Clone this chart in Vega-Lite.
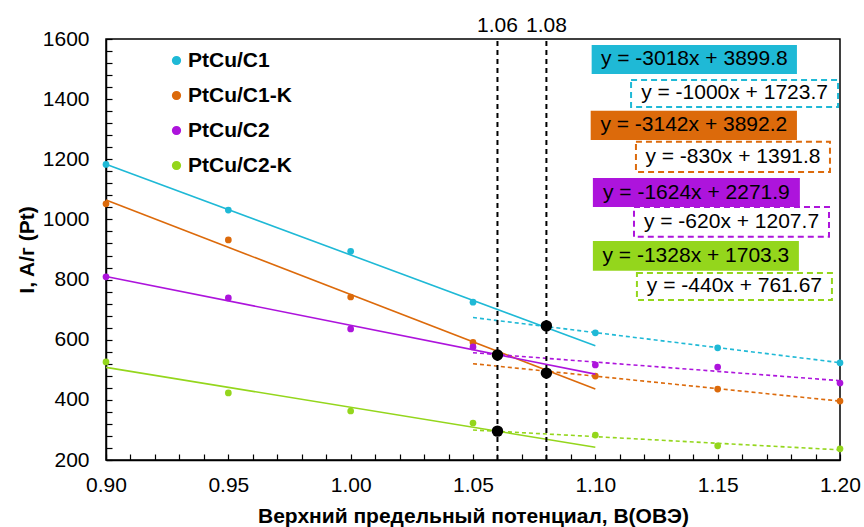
{
  "$schema": "https://vega.github.io/schema/vega-lite/v6.json",
  "width": 734,
  "height": 421,
  "autosize": {"type": "none"},
  "padding": {"left": 106, "top": 39, "right": 24, "bottom": 67},
  "config": {
    "font": "Liberation Sans",
    "view": {"stroke": "black", "strokeWidth": 1.5},
    "axis": {
      "domainColor": "black", "domainWidth": 1.5, "tickColor": "black", "tickWidth": 1.2,
      "labelFont": "Liberation Sans", "labelFontSize": 21, "labelColor": "black",
      "titleFont": "Liberation Sans", "titleFontSize": 21, "titleFontWeight": "bold", "titleColor": "black",
      "grid": false, "labelOverlap": false, "labelFlush": false
    }
  },
  "datasets": {
    "pts": [
      {"s": "PtCu/C1", "x": 0.90, "y": 1183}, {"s": "PtCu/C1", "x": 0.95, "y": 1031}, {"s": "PtCu/C1", "x": 1.00, "y": 894},
      {"s": "PtCu/C1", "x": 1.05, "y": 725}, {"s": "PtCu/C1", "x": 1.10, "y": 623}, {"s": "PtCu/C1", "x": 1.15, "y": 573}, {"s": "PtCu/C1", "x": 1.20, "y": 523},
      {"s": "PtCu/C1-K", "x": 0.90, "y": 1052}, {"s": "PtCu/C1-K", "x": 0.95, "y": 932}, {"s": "PtCu/C1-K", "x": 1.00, "y": 742},
      {"s": "PtCu/C1-K", "x": 1.05, "y": 591}, {"s": "PtCu/C1-K", "x": 1.10, "y": 479}, {"s": "PtCu/C1-K", "x": 1.15, "y": 436}, {"s": "PtCu/C1-K", "x": 1.20, "y": 396},
      {"s": "PtCu/C2", "x": 0.90, "y": 809}, {"s": "PtCu/C2", "x": 0.95, "y": 739}, {"s": "PtCu/C2", "x": 1.00, "y": 636},
      {"s": "PtCu/C2", "x": 1.05, "y": 576}, {"s": "PtCu/C2", "x": 1.10, "y": 516}, {"s": "PtCu/C2", "x": 1.15, "y": 509}, {"s": "PtCu/C2", "x": 1.20, "y": 456},
      {"s": "PtCu/C2-K", "x": 0.90, "y": 526}, {"s": "PtCu/C2-K", "x": 0.95, "y": 423}, {"s": "PtCu/C2-K", "x": 1.00, "y": 363},
      {"s": "PtCu/C2-K", "x": 1.05, "y": 323}, {"s": "PtCu/C2-K", "x": 1.10, "y": 283}, {"s": "PtCu/C2-K", "x": 1.15, "y": 247}, {"s": "PtCu/C2-K", "x": 1.20, "y": 237}
    ],
    "fits": [
      {"s": "PtCu/C1", "k": "solid", "x": 0.90, "y": 1183.6}, {"s": "PtCu/C1", "k": "solid", "x": 1.10, "y": 580.0},
      {"s": "PtCu/C1-K", "k": "solid", "x": 0.90, "y": 1064.4}, {"s": "PtCu/C1-K", "k": "solid", "x": 1.10, "y": 436.0},
      {"s": "PtCu/C2", "k": "solid", "x": 0.90, "y": 810.3}, {"s": "PtCu/C2", "k": "solid", "x": 1.10, "y": 485.5},
      {"s": "PtCu/C2-K", "k": "solid", "x": 0.90, "y": 508.1}, {"s": "PtCu/C2-K", "k": "solid", "x": 1.10, "y": 242.5},
      {"s": "PtCu/C1", "k": "dash", "x": 1.05, "y": 673.7}, {"s": "PtCu/C1", "k": "dash", "x": 1.20, "y": 523.7},
      {"s": "PtCu/C1-K", "k": "dash", "x": 1.05, "y": 520.3}, {"s": "PtCu/C1-K", "k": "dash", "x": 1.20, "y": 395.8},
      {"s": "PtCu/C2", "k": "dash", "x": 1.05, "y": 556.7}, {"s": "PtCu/C2", "k": "dash", "x": 1.20, "y": 463.7},
      {"s": "PtCu/C2-K", "k": "dash", "x": 1.05, "y": 299.67}, {"s": "PtCu/C2-K", "k": "dash", "x": 1.20, "y": 233.67}
    ],
    "boxes": [
      {"s": "PtCu/C1", "k": "fill", "label": "y = -3018x + 3899.8", "x1": 1.0985, "x2": 1.1824, "y1": 1484, "y2": 1580},
      {"s": "PtCu/C1", "k": "dash", "label": "y = -1000x + 1723.7", "x1": 1.1146, "x2": 1.1992, "y1": 1374, "y2": 1464},
      {"s": "PtCu/C1-K", "k": "fill", "label": "y = -3142x + 3892.2", "x1": 1.0981, "x2": 1.1824, "y1": 1264, "y2": 1361},
      {"s": "PtCu/C1-K", "k": "dash", "label": "y = -830x + 1391.8", "x1": 1.1166, "x2": 1.1959, "y1": 1158, "y2": 1258},
      {"s": "PtCu/C2", "k": "fill", "label": "y = -1624x + 2271.9", "x1": 1.0990, "x2": 1.1836, "y1": 1041, "y2": 1138},
      {"s": "PtCu/C2", "k": "dash", "label": "y = -620x + 1207.7", "x1": 1.1158, "x2": 1.1955, "y1": 942, "y2": 1041},
      {"s": "PtCu/C2-K", "k": "fill", "label": "y = -1328x + 1703.3", "x1": 1.0990, "x2": 1.1832, "y1": 829, "y2": 928},
      {"s": "PtCu/C2-K", "k": "dash", "label": "y = -440x + 761.67", "x1": 1.1170, "x2": 1.1967, "y1": 732, "y2": 822}
    ],
    "cross": [
      {"x": 1.06, "y": 549}, {"x": 1.08, "y": 646}, {"x": 1.08, "y": 489}, {"x": 1.06, "y": 296}
    ],
    "vlines": [
      {"x": 1.06, "y1": 200, "y2": 1600, "label": "1.06"},
      {"x": 1.08, "y1": 200, "y2": 1600, "label": "1.08"}
    ]
  },
  "layer": [
    {
      "data": {"name": "pts"},
      "mark": {"type": "point", "filled": true, "opacity": 1, "size": 45},
      "encoding": {
        "x": {"field": "x", "type": "quantitative",
          "scale": {"domain": [0.9, 1.2], "nice": false, "zero": false},
          "axis": {"title": "Верхний предельный потенциал, В(ОВЭ)", "tickSize": -6, "labelPadding": 20, "titlePadding": 10,
            "labelOverlap": false, "labelFlush": false, "labelBound": false, "tickCount": 200,
            "values": [0.90,0.91,0.92,0.93,0.94,0.95,0.96,0.97,0.98,0.99,1.00,1.01,1.02,1.03,1.04,1.05,1.06,1.07,1.08,1.09,1.10,1.11,1.12,1.13,1.14,1.15,1.16,1.17,1.18,1.19,1.20],
            "labelExpr": "abs(round(datum.value*100)) % 5 === 0 ? format(datum.value, '.2f') : ''"}},
        "y": {"field": "y", "type": "quantitative",
          "scale": {"domain": [200, 1600], "nice": false, "zero": false},
          "axis": {"title": "I, A/г (Pt)", "tickSize": -6, "labelPadding": 23, "titlePadding": 5, "format": "d",
            "labelOverlap": false, "labelFlush": false, "labelBound": false, "tickCount": 200,
            "values": [200,240,280,320,360,400,440,480,520,560,600,640,680,720,760,800,840,880,920,960,1000,1040,1080,1120,1160,1200,1240,1280,1320,1360,1400,1440,1480,1520,1560,1600],
            "labelExpr": "datum.value % 200 === 0 ? datum.label : ''"}},
        "color": {"field": "s", "type": "nominal",
          "scale": {"domain": ["PtCu/C1", "PtCu/C1-K", "PtCu/C2", "PtCu/C2-K"], "range": ["#1FB9D6", "#DC6A0B", "#AD14DC", "#94D61C"]},
          "legend": {"orient": "none", "legendX": 60, "legendY": 11, "title": null, "labelFontSize": 21, "labelFontWeight": "bold",
            "labelFont": "Liberation Sans", "labelColor": "black", "symbolSize": 60, "rowPadding": 13, "labelOffset": 1, "symbolType": "circle", "padding": 0}}
      }
    },
    {
      "data": {"name": "fits"},
      "transform": [{"filter": "datum.k === 'solid'"}],
      "mark": {"type": "line", "strokeWidth": 1.6},
      "encoding": {
        "x": {"field": "x", "type": "quantitative"},
        "y": {"field": "y", "type": "quantitative"},
        "color": {"field": "s", "type": "nominal", "legend": null}
      }
    },
    {
      "data": {"name": "fits"},
      "transform": [{"filter": "datum.k === 'dash'"}],
      "mark": {"type": "line", "strokeWidth": 1.6, "strokeDash": [4, 3]},
      "encoding": {
        "x": {"field": "x", "type": "quantitative"},
        "y": {"field": "y", "type": "quantitative"},
        "color": {"field": "s", "type": "nominal", "legend": null}
      }
    },
    {
      "data": {"name": "vlines"},
      "mark": {"type": "rule", "color": "black", "strokeWidth": 2, "strokeDash": [5, 4]},
      "encoding": {
        "x": {"field": "x", "type": "quantitative"},
        "y": {"field": "y1", "type": "quantitative"},
        "y2": {"field": "y2"}
      }
    },
    {
      "data": {"name": "vlines"},
      "mark": {"type": "text", "fontSize": 21, "font": "Liberation Sans", "color": "black", "baseline": "bottom", "dy": -3},
      "encoding": {
        "x": {"field": "x", "type": "quantitative"},
        "y": {"field": "y2", "type": "quantitative"},
        "text": {"field": "label"}
      }
    },
    {
      "data": {"name": "cross"},
      "mark": {"type": "point", "filled": true, "opacity": 1, "size": 130, "color": "black"},
      "encoding": {
        "x": {"field": "x", "type": "quantitative"},
        "y": {"field": "y", "type": "quantitative"}
      }
    },
    {
      "data": {"name": "boxes"},
      "transform": [{"filter": "datum.k === 'fill'"}],
      "mark": {"type": "rect"},
      "encoding": {
        "x": {"field": "x1", "type": "quantitative"},
        "x2": {"field": "x2"},
        "y": {"field": "y1", "type": "quantitative"},
        "y2": {"field": "y2"},
        "color": {"field": "s", "type": "nominal", "legend": null}
      }
    },
    {
      "data": {"name": "boxes"},
      "transform": [{"filter": "datum.k === 'dash'"}],
      "mark": {"type": "rect", "fill": "white", "strokeWidth": 2, "strokeDash": [6, 4]},
      "encoding": {
        "x": {"field": "x1", "type": "quantitative"},
        "x2": {"field": "x2"},
        "y": {"field": "y1", "type": "quantitative"},
        "y2": {"field": "y2"},
        "stroke": {"field": "s", "type": "nominal", "scale": {"domain": ["PtCu/C1", "PtCu/C1-K", "PtCu/C2", "PtCu/C2-K"], "range": ["#1FB9D6", "#DC6A0B", "#AD14DC", "#94D61C"]}, "legend": null}
      }
    },
    {
      "data": {"name": "boxes"},
      "transform": [{"calculate": "(datum.x1 + datum.x2) / 2", "as": "xm"}, {"calculate": "(datum.y1 + datum.y2) / 2", "as": "ym"}],
      "mark": {"type": "text", "fontSize": 21, "font": "Liberation Sans", "color": "black", "align": "center", "baseline": "middle"},
      "encoding": {
        "x": {"field": "xm", "type": "quantitative"},
        "y": {"field": "ym", "type": "quantitative"},
        "text": {"field": "label"}
      }
    }
  ]
}
